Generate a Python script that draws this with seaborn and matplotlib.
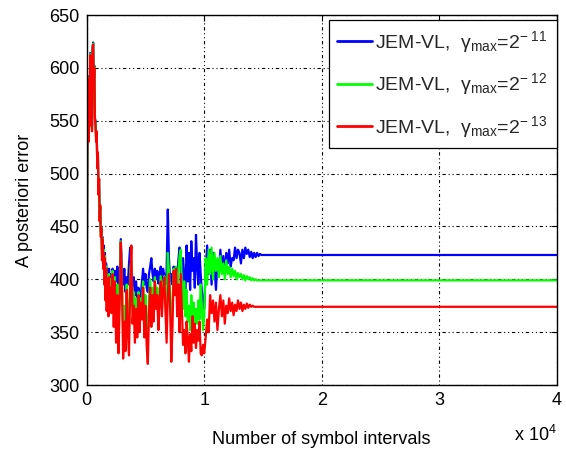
import numpy as np
import pandas as pd
import matplotlib
matplotlib.use("Agg")
import matplotlib.pyplot as plt
from matplotlib.ticker import FuncFormatter, MultipleLocator
import seaborn as sns

# Symbol-interval sample positions: fine during the start-up transient,
# coarser once the estimators begin to settle, then the final interval.
symbols = np.concatenate([
    np.arange(0, 2000, 50),
    np.arange(2000, 10000, 100),
    np.arange(10000, 15001, 125),
    [40000],
])

err_gamma11 = [
    372, 522, 556, 532, 592, 548, 614, 562, 602, 545, 620, 624, 588, 602, 552, 550, 535, 538, 510, 518,
    487, 495, 462, 468, 445, 450, 428, 440, 422, 432, 412, 425, 400, 415, 398, 410, 405, 395, 410, 400,
    405, 395, 410, 392, 408, 398, 412, 388, 402, 438, 405, 395, 410, 388, 402, 395, 415, 430, 408, 395,
    402, 385, 398, 378, 392, 362, 385, 398, 410, 395, 405, 392, 388, 405, 412, 420, 405, 398, 410, 400,
    408, 396, 405, 412, 398, 410, 404, 395, 408, 466, 420, 398, 405, 395, 412, 402, 410, 398, 418, 430,
    412, 395, 420, 402, 385, 432, 398, 425, 390, 436, 408, 420, 392, 442, 412, 395, 425, 405, 388, 380,
    372, 410, 432, 405, 428, 395, 425, 412, 390, 418, 405, 428, 410, 422, 405, 425, 415, 428, 412, 420,
    418, 430, 420, 428, 425, 415, 428, 420, 430, 424, 428, 421, 426, 420, 425, 421, 425, 422, 424, 423,
    423,
    423,
]

err_gamma12 = [
    372, 521, 555, 531, 591, 546, 613, 561, 601, 542, 619, 623, 586, 601, 552, 547, 532, 539, 507, 519,
    483, 495, 458, 469, 442, 449, 423, 439, 415, 428, 403, 422, 390, 412, 385, 404, 395, 380, 405, 388,
    400, 380, 408, 372, 402, 365, 395, 360, 385, 436, 398, 345, 375, 350, 395, 365, 350, 410, 418, 375,
    388, 360, 382, 362, 388, 355, 382, 375, 398, 368, 385, 358, 345, 380, 400, 380, 392, 375, 402, 385,
    392, 372, 388, 403, 380, 395, 403, 382, 360, 425, 408, 385, 352, 375, 410, 392, 412, 380, 405, 422,
    428, 395, 372, 398, 365, 390, 360, 375, 352, 385, 360, 378, 355, 372, 358, 380, 362, 395, 375, 352,
    365, 420, 395, 428, 405, 430, 400, 425, 408, 420, 402, 422, 405, 415, 400, 418, 405, 412, 402, 410,
    403, 408, 400, 406, 402, 405, 400, 404, 399, 403, 400, 402, 399, 401, 399, 400, 399, 399, 399, 399,
    399,
    399,
]

err_gamma13 = [
    372, 520, 555, 530, 590, 545, 612, 560, 600, 540, 618, 622, 585, 600, 552, 545, 530, 540, 505, 520,
    480, 495, 455, 470, 440, 448, 418, 438, 410, 425, 395, 420, 380, 410, 370, 400, 385, 365, 402, 372,
    392, 368, 405, 355, 398, 340, 385, 330, 372, 435, 395, 325, 360, 332, 390, 350, 328, 395, 432, 358,
    375, 340, 372, 345, 385, 350, 378, 362, 392, 345, 375, 338, 320, 368, 392, 355, 385, 360, 398, 372,
    385, 352, 380, 398, 365, 390, 402, 372, 340, 385, 405, 372, 322, 355, 408, 385, 410, 365, 395, 350,
    405, 372, 338, 352, 330, 360, 345, 322, 348, 332, 365, 340, 358, 335, 352, 342, 360, 330, 328, 338,
    330, 345, 362, 350, 385, 368, 380, 360, 378, 352, 372, 385, 365, 380, 358, 375, 368, 382, 370, 378,
    366, 376, 370, 380, 372, 378, 370, 376, 372, 377, 373, 376, 374, 375, 374, 374, 374, 374, 374, 374,
    374,
    374,
]

series_labels = [
    "JEM-VL,  γ$_{\\rm max}$=2$^{-\\ 11}$",
    "JEM-VL,  γ$_{\\rm max}$=2$^{-\\ 12}$",
    "JEM-VL,  γ$_{\\rm max}$=2$^{-\\ 13}$",
]
series_colors = ["#0000ff", "#00ff00", "#ff0000"]

assert len(symbols) == len(err_gamma11) == len(err_gamma12) == len(err_gamma13)

frames = []
for label, vals in zip(series_labels, [err_gamma11, err_gamma12, err_gamma13]):
    frames.append(pd.DataFrame({"symbols": symbols, "error": vals, "series": label}))
df = pd.concat(frames, ignore_index=True)

sns.set_theme(style="white")
plt.rcParams["font.family"] = ["Liberation Sans", "DejaVu Sans"]
plt.rcParams["mathtext.fontset"] = "custom"
plt.rcParams["mathtext.rm"] = "Liberation Sans"
plt.rcParams["mathtext.it"] = "Liberation Sans:italic"
plt.rcParams["mathtext.default"] = "regular"

fig = plt.figure(figsize=(5.66, 4.55), dpi=100)
ax = fig.add_axes([0.1532, 0.1538, 0.8304, 0.8132])

sns.lineplot(
    data=df, x="symbols", y="error", hue="series",
    hue_order=series_labels, palette=series_colors,
    estimator=None, sort=False, linewidth=1.6, ax=ax, legend=False,
)

ax.set_xlim(0, 40000)
ax.set_ylim(300, 650)
ax.xaxis.set_major_locator(MultipleLocator(10000))
ax.yaxis.set_major_locator(MultipleLocator(50))
ax.xaxis.set_major_formatter(FuncFormatter(lambda v, p: f"{v / 1e4:g}"))

ax.grid(True, color="black", linestyle=(0, (1, 2.5, 1, 2.5, 3, 2.5)), linewidth=0.8)
for sp in ax.spines.values():
    sp.set_color("black")
    sp.set_linewidth(1.0)
ax.tick_params(direction="in", top=True, right=True, length=4, width=0.8,
               labelsize=13, colors="black", pad=5)

ax.set_xlabel("Number of symbol intervals", fontsize=13, color="black", labelpad=16)
ax.set_ylabel("A posteriori error", fontsize=13, color="black", labelpad=12)
ax.text(1.0, -0.135, "x 10$^{4}$", transform=ax.transAxes, ha="right", va="center",
        fontsize=13, color="black")

handles = [plt.Line2D([], [], color=c, linewidth=2.0) for c in series_colors]
leg = ax.legend(handles, series_labels, loc="upper right", bbox_to_anchor=(1.0, 0.986),
                fontsize=14, frameon=True, fancybox=False, framealpha=1,
                edgecolor="black", borderaxespad=0, handlelength=1.75,
                handletextpad=0.2, labelspacing=0.85, borderpad=0.45)
leg.get_frame().set_linewidth(0.9)

fig.savefig("out.png", dpi=100)
